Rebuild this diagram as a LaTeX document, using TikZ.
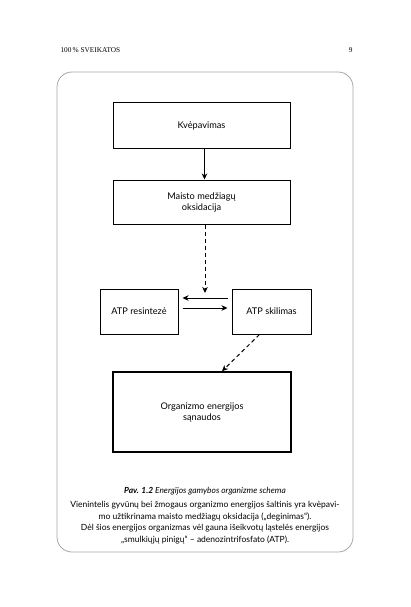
\documentclass[tikz,border=0pt]{standalone}
\usepackage{fontspec}
\setmainfont{Lato}
\newfontfamily\serifhead{Liberation Serif}
\usetikzlibrary{arrows.meta,calc}
\begin{document}
\begin{tikzpicture}[x=1pt,y=-1pt,
  stepbox/.style={draw,line width=1pt,inner sep=2pt,align=center,font=\fontsize{9.2}{11}\selectfont},
  arr/.style={line width=1pt,-{Stealth[length=6pt,width=5.5pt,inset=1.8pt]}},
  dasharr/.style={arr,dash pattern=on 4pt off 3pt}]
\useasboundingbox (0,0) rectangle (411,607);
\node[anchor=west,font=\serifhead\fontsize{7.3}{8}\selectfont] (hd) at (57,50) {100\,\% SVEIKATOS};
\node[anchor=east,font=\serifhead\fontsize{7.3}{8}\selectfont] (pg) at (356,50) {9};
\draw[gray!70,line width=0.8pt,rounded corners=15pt] (57,72) rectangle (353,552);
\node[stepbox,minimum width=177pt,minimum height=45pt] (k) at (201.5,125.5) {Kvėpavimas};
\node[stepbox,minimum width=177pt,minimum height=44pt] (m) at (201.5,202) {Maisto medžiagų\\oksidacija};
\node[stepbox,minimum width=78pt,minimum height=45pt] (r) at (139,311.5) {ATP resintezė};
\node[stepbox,minimum width=79pt,minimum height=45pt] (s) at (271.5,311.5) {ATP skilimas};
\node[stepbox,line width=1.6pt,minimum width=178pt,minimum height=80pt] (o) at (202,412) {Organizmo energijos\\sąnaudos};
\coordinate (tip) at (205,293);
\draw[arr] ([xshift=3pt]k.south) -- ([xshift=3pt]m.north);
\draw[dasharr] ([xshift=3.5pt]m.south) -- (tip);
\draw[arr,shorten <=4pt,shorten >=4pt] ([yshift=13.5pt]s.west) -- ([yshift=13.5pt]r.east);
\draw[arr,shorten <=4pt,shorten >=4pt] ([yshift=3.5pt]r.east) -- ([yshift=3.5pt]s.west);
\draw[dasharr] ([xshift=-12pt]s.south) -- ([xshift=20pt]o.north);
\node[font=\itshape\fontsize{8.4}{10}\selectfont] (cap) at (205,491) {\textbf{Pav. 1.2} Energijos gamybos organizme schema};
\node[align=center,font=\fontsize{8.5}{11.6}\selectfont] (txt) at (205,522.5) {Vienintelis gyvūnų bei žmogaus organizmo energijos šaltinis yra kvėpavi-\\mo užtikrinama maisto medžiagų oksidacija („deginimas“).\\Dėl šios energijos organizmas vėl gauna išeikvotų ląstelės energijos\\„smulkiųjų pinigų“ – adenozintrifosfato (ATP).};
\end{tikzpicture}
\end{document}
